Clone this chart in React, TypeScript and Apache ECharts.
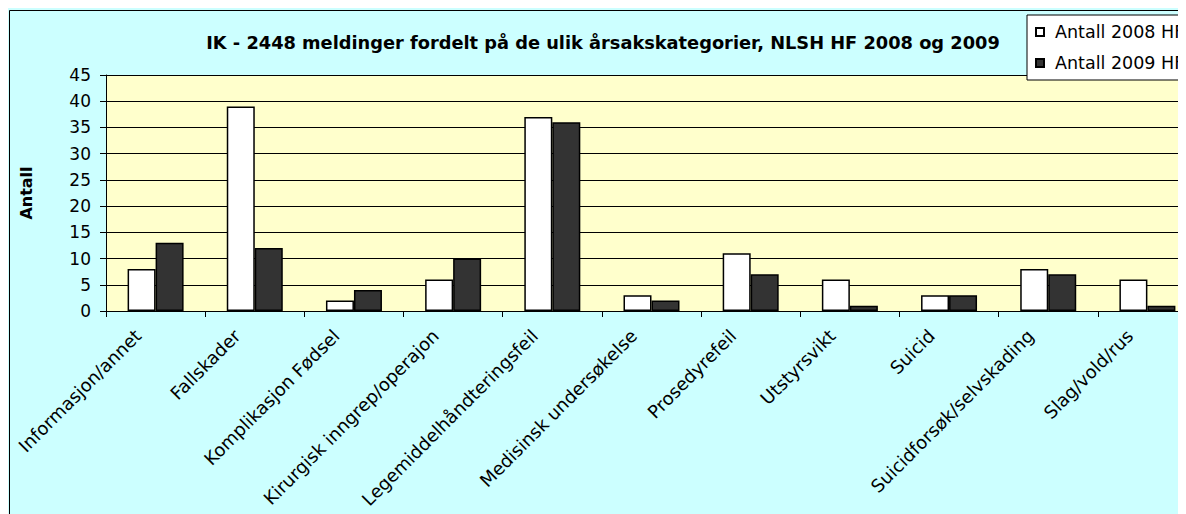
import React, { useEffect, useRef } from "react";
import * as echarts from "echarts";

const categories = [
  "Informasjon/annet",
  "Fallskader",
  "Komplikasjon Fødsel",
  "Kirurgisk inngrep/operajon",
  "Legemiddelhåndteringsfeil",
  "Medisinsk undersøkelse",
  "Prosedyrefeil",
  "Utstyrsvikt",
  "Suicid",
  "Suicidforsøk/selvskading",
  "Slag/vold/rus",
];
const values2008 = [8, 39, 2, 6, 37, 3, 11, 6, 3, 8, 6];
const values2009 = [13, 12, 4, 10, 36, 2, 7, 1, 3, 7, 1];
const seriesNames = ["Antall 2008 HF", "Antall 2009 HF"];
const titleText = "IK - 2448 meldinger fordelt på de ulik årsakskategorier, NLSH HF 2008 og 2009";
const yAxisName = "Antall";

export default function App() {
  const ref = useRef<HTMLDivElement>(null);
  useEffect(() => {
    if (!ref.current) return;
    const chart = echarts.init(ref.current, null, { renderer: "svg" });
    const font = "'DejaVu Sans', Verdana, sans-serif";
    chart.setOption({
      animation: false,
      backgroundColor: "#CCFFFF",
      textStyle: { fontFamily: font },
      title: {
        text: titleText,
        left: 590,
        top: 20,
        textAlign: "center",
        textStyle: { fontSize: 17.8, fontWeight: "bold", color: "#000", fontFamily: font },
      },
      legend: {
        orient: "vertical",
        left: 1019,
        top: 7,
        backgroundColor: "#fff",
        borderColor: "#000",
        borderWidth: 1,
        borderRadius: 0,
        padding: [8, 40, 8, 8],
        itemWidth: 8,
        itemHeight: 8,
        itemGap: 13,
        icon: "rect",
        textStyle: { fontSize: 17.5, color: "#000", fontFamily: font, padding: [0, 0, 0, 6] },
        data: seriesNames,
      },
      graphic: [
        {
          type: "rect",
          shape: { x: 1.5, y: 2.5, width: 1300, height: 600 },
          style: { fill: "none", stroke: "#000", lineWidth: 1 },
          z: 100,
          silent: true,
        },
      ],
      grid: {
        left: 98,
        top: 67,
        right: 51,
        bottom: 217,
        show: true,
        backgroundColor: "#FFFFCC",
        borderWidth: 0,
      },
      xAxis: {
        type: "category",
        data: categories,
        axisLine: { show: true, lineStyle: { color: "#000", width: 1 } },
        axisTick: { show: true, length: 6, alignWithLabel: false, lineStyle: { color: "#000" } },
        axisLabel: {
          rotate: 45,
          interval: 0,
          fontSize: 18,
          color: "#000",
          margin: 4,
          padding: [0, 25, 40, 0],
          fontFamily: font,
        },
      },
      yAxis: {
        type: "value",
        min: 0,
        max: 45,
        interval: 5,
        name: yAxisName,
        nameLocation: "middle",
        nameGap: 72,
        nameTextStyle: { fontSize: 16, fontWeight: "bold", color: "#000", fontFamily: font },
        axisLine: { show: true, lineStyle: { color: "#000", width: 1 } },
        axisTick: { show: true, length: 6, lineStyle: { color: "#000" } },
        axisLabel: { fontSize: 17, color: "#000", margin: 15, fontFamily: font },
        splitLine: { show: true, lineStyle: { color: "#000", width: 1 } },
      },
      series: [
        {
          name: seriesNames[0],
          type: "bar",
          data: values2008,
          barWidth: 28,
          barGap: "0%",
          itemStyle: { color: "#FFFFFF", borderColor: "#000", borderWidth: 1.5 },
        },
        {
          name: seriesNames[1],
          type: "bar",
          data: values2009,
          barWidth: 28,
          barGap: "0%",
          itemStyle: { color: "#333333", borderColor: "#000", borderWidth: 1.5 },
        },
      ],
    });
    return () => chart.dispose();
  }, []);
  return (
    <div style={{ width: 1178, height: 506, overflow: "hidden", position: "relative" }}>
      <div ref={ref} style={{ width: 1240, height: 520 }} />
    </div>
  );
}
